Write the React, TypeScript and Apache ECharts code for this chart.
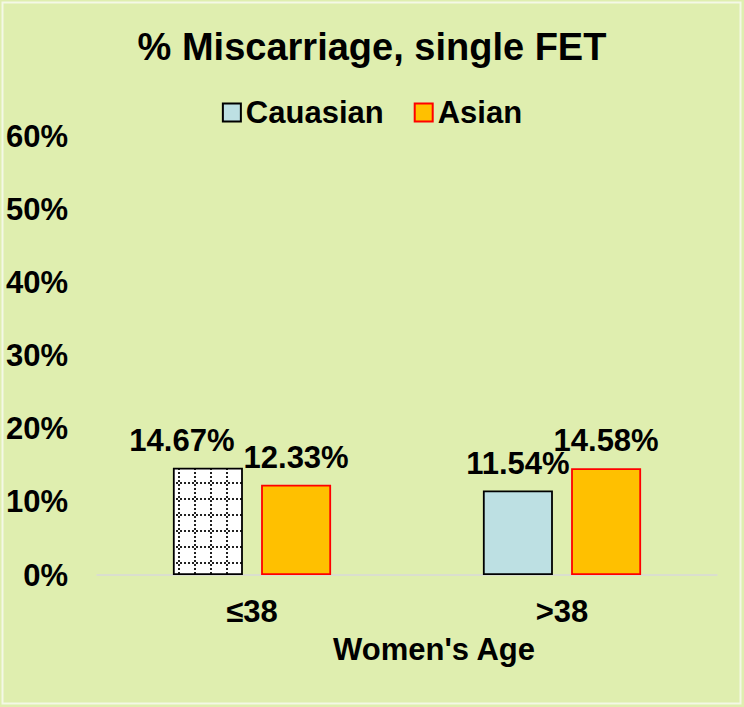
import React, { useEffect, useRef } from "react";
import * as echarts from "echarts";

const categories = ["≤38", ">38"];
const caucasian = [14.67, 11.54];
const asian = [12.33, 14.58];
const yTicks = { min: 0, max: 60, interval: 10 };

function makePattern(): string {
  const c = document.createElement("canvas");
  c.width = 16;
  c.height = 16;
  const ctx = c.getContext("2d")!;
  ctx.fillStyle = "#ffffff";
  ctx.fillRect(0, 0, 16, 16);
  ctx.fillStyle = "#222222";
  for (let i = 0; i < 16; i += 4) {
    ctx.fillRect(2, i, 2, 2);
    ctx.fillRect(i, 2, 2, 2);
  }
  return c.toDataURL();
}

export default function App() {
  const ref = useRef<HTMLDivElement>(null);
  useEffect(() => {
    if (!ref.current) return;
    const chart = echarts.init(ref.current, null, { renderer: "svg" });
    const font = "Liberation Sans, Arial, sans-serif";
    const pattern = makePattern();
    const labelStyle = {
      show: true,
      position: "top" as const,
      distance: 12,
      fontFamily: font,
      fontWeight: "bold" as const,
      fontSize: 31,
      color: "#000",
      formatter: (p: any) => p.value.toFixed(2) + "%",
    };
    chart.setOption({
      animation: false,
      backgroundColor: "#DFEEAF",
      title: {
        text: "% Miscarriage, single FET",
        left: "center",
        top: 23,
        textStyle: { fontFamily: font, fontWeight: "bold", fontSize: 38, color: "#000" },
      },
      legend: {
        data: ["Cauasian", "Asian"],
        left: "center",
        top: 92,
        itemWidth: 18,
        itemHeight: 18,
        itemGap: 30,
        icon: "rect",
        textStyle: { fontFamily: font, fontWeight: "bold", fontSize: 31, color: "#000" },
      },
      graphic: [
        {
          type: "rect",
          shape: { x: 2.5, y: 2.5, width: 738, height: 701 },
          style: { fill: "none", stroke: "#F4F8E6", lineWidth: 2 },
          silent: true,
        },
      ],
      grid: { left: 97, right: 27, top: 136, bottom: 132, containLabel: false },
      xAxis: {
        type: "category",
        data: categories,
        axisLine: { lineStyle: { color: "#D9D9D9", width: 1.5 } },
        axisTick: { show: false },
        axisLabel: {
          margin: 21,
          fontFamily: font,
          fontWeight: "bold",
          fontSize: 31,
          color: "#000",
        },
        name: "Women's Age",
        nameLocation: "middle",
        nameGap: 59,
        nameTextStyle: {
          fontFamily: font,
          fontWeight: "bold",
          fontSize: 31,
          color: "#000",
          padding: [0, 0, 0, 54],
        },
      },
      yAxis: {
        type: "value",
        min: yTicks.min,
        max: yTicks.max,
        interval: yTicks.interval,
        axisLine: { show: false },
        axisTick: { show: false },
        splitLine: { show: false },
        axisLabel: {
          margin: 29,
          formatter: "{value}%",
          fontFamily: font,
          fontWeight: "bold",
          fontSize: 31,
          color: "#000",
        },
      },
      series: [
        {
          name: "Cauasian",
          type: "bar",
          barWidth: 70,
          barGap: "26%",
          itemStyle: { color: "#BDE0E3", borderColor: "#000", borderWidth: 1.8 },
          label: labelStyle,
          data: caucasian.map((v, i) =>
            i === 0
              ? {
                  value: v,
                  itemStyle: { color: { image: pattern, repeat: "repeat" } },
                  label: { offset: [-26, 0] },
                }
              : { value: v }
          ),
        },
        {
          name: "Asian",
          type: "bar",
          barWidth: 70,
          itemStyle: { color: "#FFC000", borderColor: "#FF0000", borderWidth: 1.8 },
          label: labelStyle,
          data: asian,
        },
      ],
    });
    return () => chart.dispose();
  }, []);
  return (
    <div
      ref={ref}
      style={{ position: "fixed", left: 0, top: 0, width: 744, height: 707 }}
    />
  );
}
